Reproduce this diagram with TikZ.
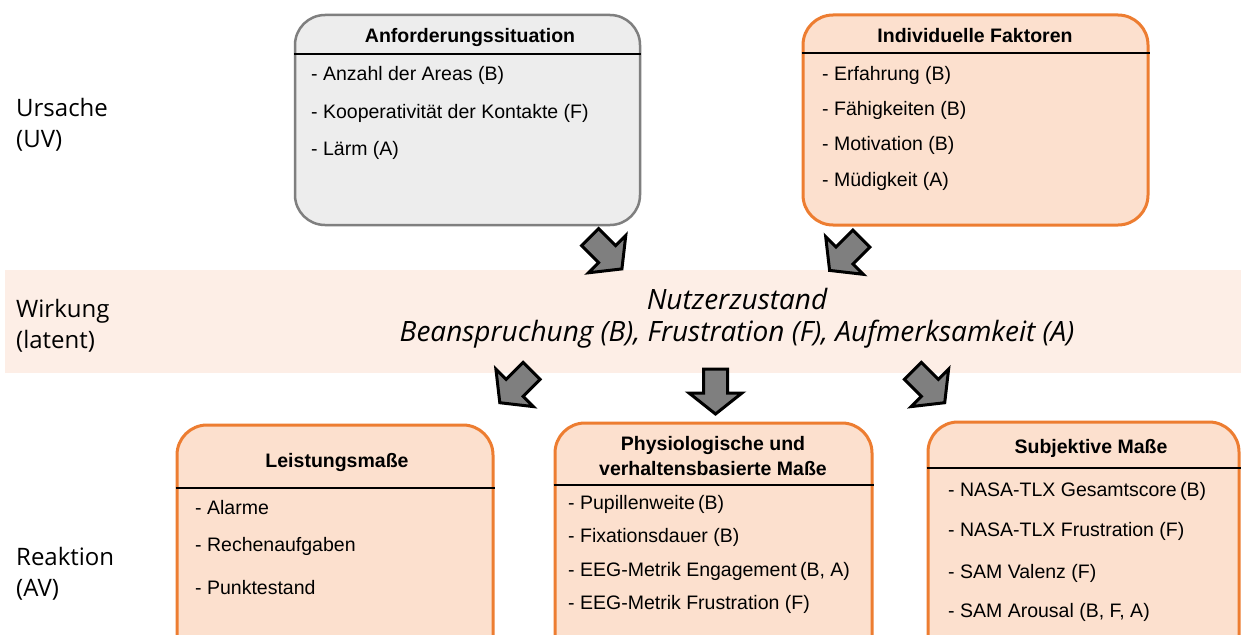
\documentclass[tikz,border=0pt]{standalone}
\usepackage{fontspec}
\setmainfont{Liberation Sans}
\newfontfamily\sidefont{Open Sans}
\definecolor{boxgray}{HTML}{7F7F7F}
\definecolor{boxgrayfill}{HTML}{EDEDED}
\definecolor{boxorange}{HTML}{ED7D31}
\definecolor{boxpeach}{HTML}{FCE0CE}
\definecolor{bandpeach}{HTML}{FDEEE6}
\definecolor{arrowgray}{HTML}{7F7F7F}
\tikzset{
  boxtext/.style={anchor=base west, inner sep=0pt, font=\fontsize{19.5}{23}\selectfont},
  boxhead/.style={anchor=base, inner sep=0pt, font=\fontsize{19.5}{23}\selectfont\bfseries},
  sidelabel/.style={anchor=base west, inner sep=0pt, font=\sidefont\fontsize{24}{29}\selectfont},
  statetext/.style={anchor=base, inner sep=0pt, font=\sidefont\itshape\fontsize{28}{33}\selectfont},
  panel/.style={rectangle, inner sep=0pt, rounded corners=30pt},
  graybox/.style={panel, draw=boxgray, fill=boxgrayfill, line width=2.5pt},
  orangebox/.style={panel, draw=boxorange, fill=boxpeach, line width=3pt},
  headrule/.style={line width=1.3pt},
  blockarrow/.style={fill=arrowgray, draw=black, line width=3pt, line join=miter},
  pics/blockarrow/.style={code={
    \draw[blockarrow] (-12,-22.5) -- (12,-22.5) -- (12,1.5) -- (26.5,1.5)
      -- (0,22.5) -- (-26.5,1.5) -- (-12,1.5) -- cycle;}},
}
\begin{document}
\begin{tikzpicture}[x=1pt,y=-1pt]
\clip (0,0) rectangle (1241,634);
\fill[white] (0,0) rectangle (1241,634);

% latent band
\fill[bandpeach] (5,270) rectangle (1241,373);
\node[inner sep=0pt] (band) at (623,321.5) {};

% side labels
\node[sidelabel] (u1) at (16,116) {Ursache};
\node[sidelabel] (u2) at (16,147) {(UV)};
\node[sidelabel] (w1) at (16,317) {Wirkung};
\node[sidelabel] (w2) at (16,348) {(latent)};
\node[sidelabel] (r1) at (16,565) {Reaktion};
\node[sidelabel] (r2) at (16,596) {(AV)};

% central state
\node[statetext] (st1) at (737,309) {Nutzerzustand};
\node[statetext] (st2) at (737,341) {Beanspruchung (B), Frustration (F), Aufmerksamkeit (A)};

% demand situation
\node[graybox, minimum width=345pt, minimum height=210pt] (anf) at (467.5,120) {};
\draw[headrule] (anf.west |- 0,54) -- (anf.east |- 0,54);
\node[boxhead] (anfh) at (470,43) {Anforderungssituation};
\node[boxtext] (anf1) at (311,81) {- Anzahl der Areas (B)};
\node[boxtext] (anf2) at (311,118) {- Kooperativität der Kontakte (F)};
\node[boxtext] (anf3) at (311,155) {- Lärm (A)};

% individual factors
\node[orangebox, minimum width=345pt, minimum height=210pt] (ind) at (975.5,120) {};
\draw[headrule] (ind.west |- 0,53) -- (ind.east |- 0,53);
\node[boxhead] (indh) at (975,43) {Individuelle Faktoren};
\node[boxtext] (ind1) at (822,80) {- Erfahrung (B)};
\node[boxtext] (ind2) at (822,115) {- Fähigkeiten (B)};
\node[boxtext] (ind3) at (822,150) {- Motivation (B)};
\node[boxtext] (ind4) at (822,186) {- Müdigkeit (A)};

% performance measures
\node[orangebox, minimum width=316pt, minimum height=255pt] (lei) at (335,552.5) {};
\draw[headrule] (lei.west |- 0,488) -- (lei.east |- 0,488);
\node[boxhead] (leih) at (337,467) {Leistungsmaße};
\node[boxtext] (lei1) at (195,514) {- Alarme};
\node[boxtext] (lei2) at (195,551) {- Rechenaufgaben};
\node[boxtext] (lei3) at (195,594) {- Punktestand};

% physiological and behavioural measures
\node[orangebox, minimum width=317pt, minimum height=257pt] (phy) at (713.5,551.5) {};
\draw[headrule] (phy.west |- 0,485) -- (phy.east |- 0,485);
\node[boxhead] (phyh1) at (713,450) {Physiologische und};
\node[boxhead] (phyh2) at (713,475) {verhaltensbasierte Maße};
\node[boxtext] (phy1) at (568,509) {- Pupillenweite\,(B)};
\node[boxtext] (phy2) at (568,542) {- Fixationsdauer (B)};
\node[boxtext] (phy3) at (568,576) {- EEG-Metrik Engagement\,(B, A)};
\node[boxtext] (phy4) at (568,609) {- EEG-Metrik Frustration (F)};

% subjective measures
\node[orangebox, minimum width=311pt, minimum height=258pt] (sub) at (1083.5,551) {};
\draw[headrule] (sub.west |- 0,468) -- (sub.east |- 0,468);
\node[boxhead] (subh) at (1091,453) {Subjektive Maße};
\node[boxtext] (sub1) at (948,496) {- NASA-TLX Gesamtscore\,(B)};
\node[boxtext] (sub2) at (948,536) {- NASA-TLX Frustration (F)};
\node[boxtext] (sub3) at (948,578) {- SAM Valenz (F)};
\node[boxtext] (sub4) at (948,617) {- SAM Arousal (B, F, A)};

% block arrows
\pic[rotate=45] (a1) at (606,253) {blockarrow};
\pic[rotate=-45] (a2) at (845.5,254.5) {blockarrow};
\pic[rotate=-45] (a3) at (515.7,386.8) {blockarrow};
\pic (a4) at (715.5,391.5) {blockarrow};
\pic[rotate=45] (a5) at (928.8,386.8) {blockarrow};
\end{tikzpicture}
\end{document}
